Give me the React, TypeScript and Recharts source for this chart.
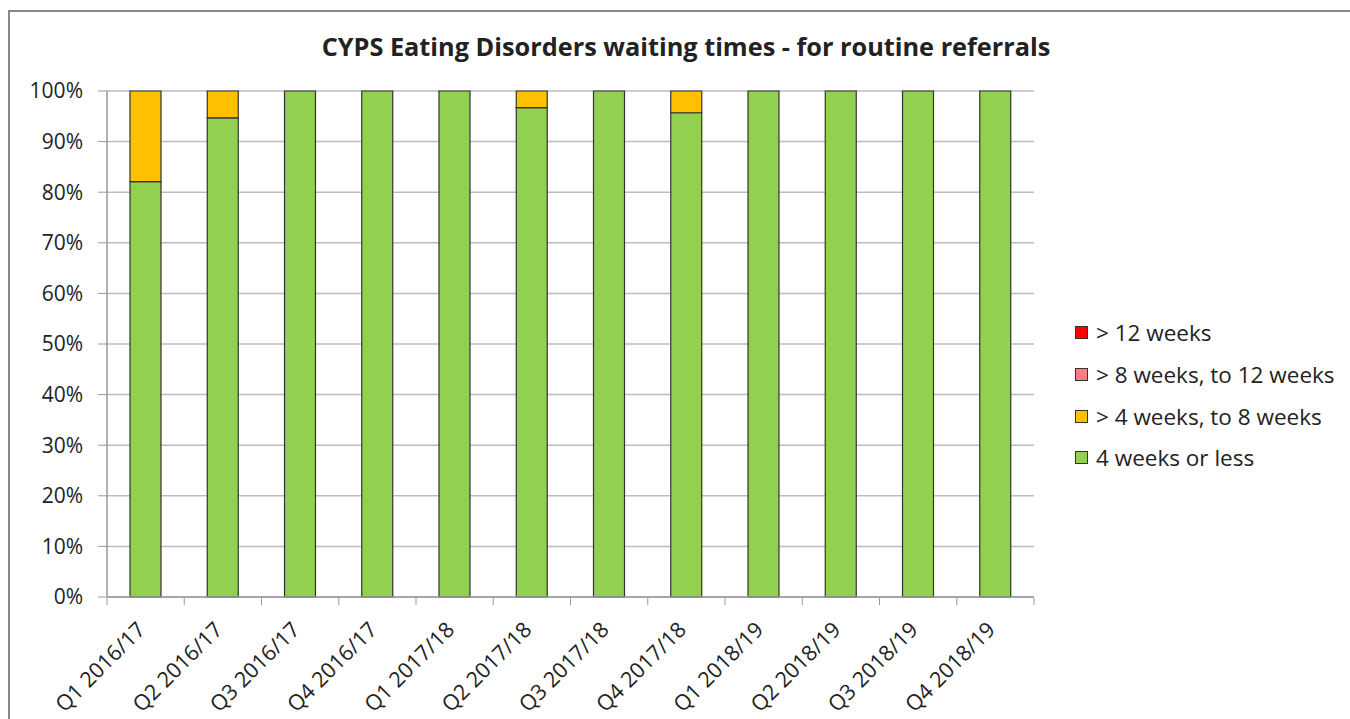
import { BarChart, Bar, XAxis, YAxis, CartesianGrid } from 'recharts';

const quarters = [
  'Q1 2016/17', 'Q2 2016/17', 'Q3 2016/17', 'Q4 2016/17',
  'Q1 2017/18', 'Q2 2017/18', 'Q3 2017/18', 'Q4 2017/18',
  'Q1 2018/19', 'Q2 2018/19', 'Q3 2018/19', 'Q4 2018/19',
];
const upTo4 = [82.1, 94.7, 100, 100, 100, 96.7, 100, 95.7, 100, 100, 100, 100];
const from4to8 = [17.9, 5.3, 0, 0, 0, 3.3, 0, 4.3, 0, 0, 0, 0];
const from8to12 = [0, 0, 0, 0, 0, 0, 0, 0, 0, 0, 0, 0];
const over12 = [0, 0, 0, 0, 0, 0, 0, 0, 0, 0, 0, 0];
const yTicks = [0, 10, 20, 30, 40, 50, 60, 70, 80, 90, 100];

const seriesConfig = [
  { dataKey: 'upTo4', fill: '#92D050', name: '4 weeks or less' },
  { dataKey: 'from4to8', fill: '#FFC000', name: '> 4 weeks, to 8 weeks' },
  { dataKey: 'from8to12', fill: '#FF7C80', name: '> 8 weeks, to 12 weeks' },
  { dataKey: 'over12', fill: '#FF0000', name: '> 12 weeks' },
];

const chartData = quarters.map((q, i) => ({
  quarter: q,
  upTo4: upTo4[i],
  from4to8: from4to8[i],
  from8to12: from8to12[i],
  over12: over12[i],
}));

const FONT = '"Open Sans", sans-serif';
const PLOT_LEFT = 107;
const PLOT_RIGHT = 1034;
const HALF_BAND = (PLOT_RIGHT - PLOT_LEFT) / quarters.length / 2;

// excel puts the tick marks between categories, so draw them here
const XTick = ({ x, y, payload, index }: any) => (
  <g>
    <line x1={x - HALF_BAND} x2={x - HALF_BAND} y1={y - 8} y2={y - 1} stroke="#999" />
    {index === quarters.length - 1 && (
      <line x1={x + HALF_BAND} x2={x + HALF_BAND} y1={y - 8} y2={y - 1} stroke="#999" />
    )}
    <text
      x={x + 1}
      y={y + 25}
      transform={`rotate(-45, ${x + 1}, ${y + 25})`}
      textAnchor="end"
      fontSize={21.5}
      fontFamily={FONT}
      fill="#222"
    >
      {payload.value}
    </text>
  </g>
);

// legend drawn outside the svg so it doesn't shrink the plot
const LegendBox = () => (
  <div style={{ position: 'absolute', left: 1075, top: 312, fontFamily: FONT, fontSize: 22.5, color: '#222' }}>
    {[...seriesConfig].reverse().map(s => (
      <div key={s.dataKey} style={{ display: 'flex', alignItems: 'center', height: 41.7, whiteSpace: 'nowrap' }}>
        <span
          style={{
            width: 11,
            height: 11,
            background: s.fill,
            border: '1px solid #333',
            marginRight: 8,
            display: 'inline-block',
          }}
        />
        {s.name}
      </div>
    ))}
  </div>
);

const App = () => {
  return (
    <div style={{ position: 'absolute', left: 0, top: 0, width: 1350, height: 719, overflow: 'hidden', background: '#fff' }}>
      <div
        style={{
          position: 'absolute',
          left: 8,
          top: 10,
          width: 1400,
          height: 800,
          borderLeft: '2px solid #888',
          borderTop: '2px solid #888',
        }}
      />
      <div
        style={{
          position: 'absolute',
          left: 0,
          top: 29,
          width: 1372,
          textAlign: 'center',
          fontFamily: FONT,
          fontWeight: 700,
          fontSize: 25.3,
          color: '#222',
        }}
      >
        CYPS Eating Disorders waiting times - for routine referrals
      </div>
      <div style={{ position: 'absolute', left: 0, top: 0 }}>
        <BarChart
          width={1350}
          height={719}
          data={chartData}
          margin={{ top: 91, right: 1350 - PLOT_RIGHT, left: 0, bottom: 0 }}
          barSize={31}
        >
          <CartesianGrid vertical={false} stroke="#BDBDBD" strokeWidth={1.5} />
          <XAxis
            dataKey="quarter"
            tick={<XTick />}
            tickLine={false}
            axisLine={{ stroke: '#999', strokeWidth: 1.5 }}
            tickSize={7}
            interval={0}
            height={122}
          />
          <YAxis
            domain={[0, 100]}
            ticks={yTicks}
            tickFormatter={(v) => `${v}%`}
            tick={{ fontSize: 21, fontFamily: FONT, fill: '#222', dx: -13 }}
            tickLine={{ stroke: '#999' }}
            axisLine={{ stroke: '#999', strokeWidth: 1.5 }}
            tickSize={9}
            width={PLOT_LEFT}
            interval={0}
          />
          {seriesConfig.map(s => (
            <Bar
              key={s.dataKey}
              dataKey={s.dataKey}
              stackId="a"
              fill={s.fill}
              name={s.name}
              stroke="#333"
              strokeWidth={1.2}
              isAnimationActive={false}
            />
          ))}
        </BarChart>
      </div>
      <LegendBox />
    </div>
  );
};

export default App;
